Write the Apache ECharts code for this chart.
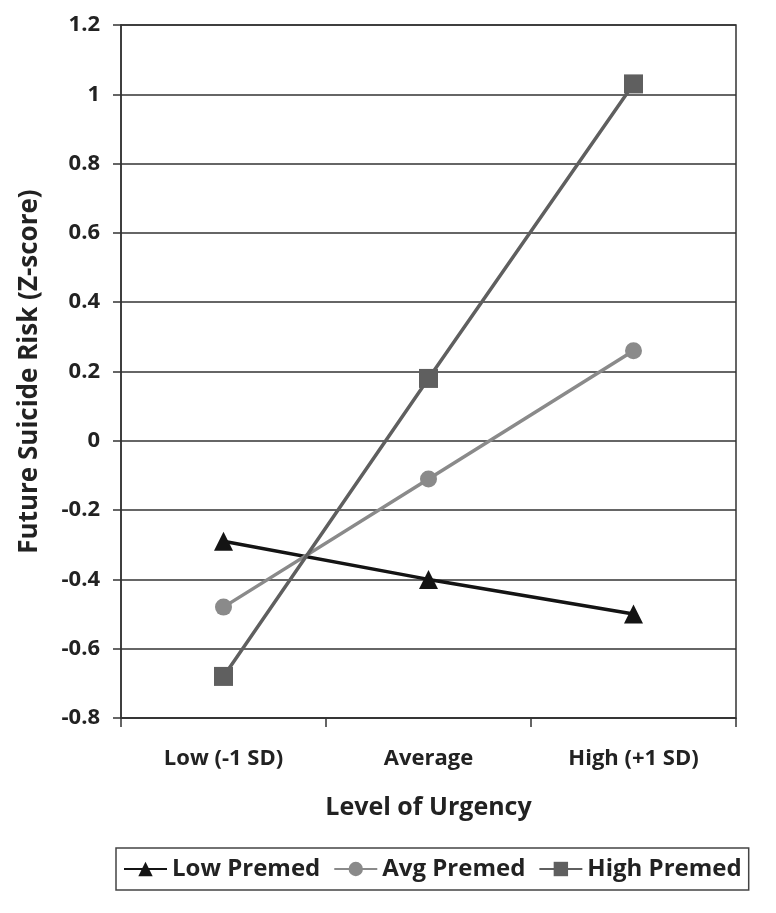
<!DOCTYPE html>
<html><head><meta charset="utf-8">
<script src="https://cdn.jsdelivr.net/npm/echarts@6/dist/echarts.min.js"></script>
<style>html,body{margin:0;padding:0;background:#fff}#c{width:776px;height:913px}</style>
</head><body><div id="c"></div>
<script>
const categories = ['Low (-1 SD)', 'Average', 'High (+1 SD)'];
const lowPremed = [-0.29, -0.40, -0.50];
const avgPremed = [-0.48, -0.11, 0.26];
const highPremed = [-0.68, 0.18, 1.03];
const seriesNames = ['Low Premed', 'Avg Premed', 'High Premed'];
const yMin = -0.8, yMax = 1.2, yStep = 0.2;

const FONT = '"Open Sans"';
const TXT = '#222';
const chart = echarts.init(document.getElementById('c'), null, {renderer: 'canvas'});
chart.setOption({
  animation: false,
  backgroundColor: '#fff',
  grid: {left: 121, right: 40, top: 25, bottom: 195, show: true, borderColor: '#333', borderWidth: 1.5, backgroundColor: 'transparent'},
  xAxis: {
    type: 'category', data: categories, boundaryGap: true,
    name: 'Level of Urgency', nameLocation: 'middle', nameGap: 77,
    nameTextStyle: {fontFamily: FONT, fontWeight: 'bold', fontSize: 25, color: TXT},
    axisLine: {onZero: false, lineStyle: {color: '#333', width: 1.5}},
    axisTick: {show: true, length: 9, lineStyle: {color: '#333', width: 1.5}},
    axisLabel: {fontFamily: FONT, fontWeight: 'bold', fontSize: 22, color: TXT, margin: 30}
  },
  yAxis: {
    type: 'value', min: yMin, max: yMax, interval: yStep,
    name: 'Future Suicide Risk (Z-score)', nameLocation: 'middle', nameGap: 78, nameRotate: 90,
    nameTextStyle: {fontFamily: FONT, fontWeight: 'bold', fontSize: 26, color: TXT},
    axisLine: {show: true, lineStyle: {color: '#333', width: 1.5}},
    axisTick: {show: true, length: 8, lineStyle: {color: '#333', width: 1.5}},
    splitLine: {show: true, lineStyle: {color: '#333', width: 1.5}},
    axisLabel: {fontFamily: FONT, fontWeight: 'bold', fontSize: 22, color: TXT, margin: 21,
      formatter: v => String(Math.round(v * 10) / 10)}
  },
  legend: {
    left: 116, top: 848,
    padding: [9, 7, 9, 7], itemGap: 13, itemWidth: 43, itemHeight: 18,
    borderColor: '#444', borderWidth: 1.5,
    textStyle: {fontFamily: FONT, fontWeight: 'bold', fontSize: 24, color: TXT},
    data: seriesNames
  },
  series: [
    {name: seriesNames[0], type: 'line', data: lowPremed, symbol: 'triangle', symbolSize: 19,
      itemStyle: {color: '#141414'}, lineStyle: {color: '#141414', width: 3.5}},
    {name: seriesNames[1], type: 'line', data: avgPremed, symbol: 'circle', symbolSize: 17,
      itemStyle: {color: '#8a8a8a'}, lineStyle: {color: '#8a8a8a', width: 3.5}},
    {name: seriesNames[2], type: 'line', data: highPremed, symbol: 'rect', symbolSize: 19,
      itemStyle: {color: '#5f5f5f'}, lineStyle: {color: '#5f5f5f', width: 3.5}}
  ]
});
</script></body></html>
